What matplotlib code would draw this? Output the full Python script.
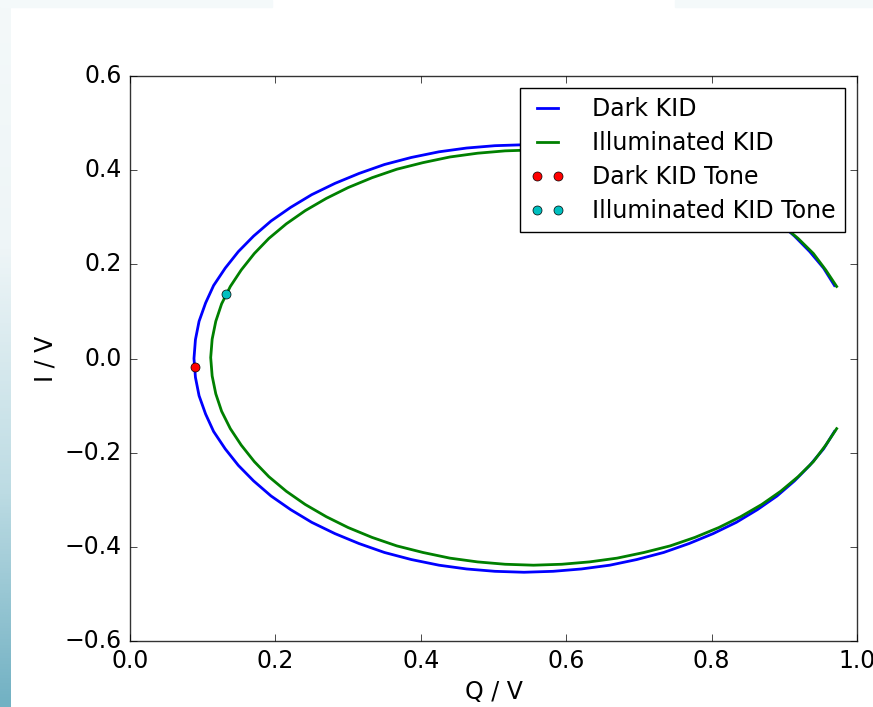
import matplotlib
matplotlib.use('Agg')
import matplotlib.pyplot as plt
import numpy as np
from matplotlib.colors import LinearSegmentedColormap

plt.style.use('classic')

# ── IQ loops (Q, I in volts) ──
dark_q = [0.969, 0.954, 0.935, 0.914, 0.890, 0.863, 0.834, 0.802, 0.769, 0.734,
          0.697, 0.660, 0.621, 0.582, 0.542, 0.502, 0.463, 0.425, 0.387, 0.350,
          0.315, 0.282, 0.250, 0.221, 0.194, 0.170, 0.149, 0.131, 0.115, 0.104,
          0.095, 0.090, 0.088,
          0.090, 0.095, 0.104, 0.115, 0.131, 0.149, 0.170, 0.194, 0.221, 0.250,
          0.282, 0.315, 0.350, 0.387, 0.425, 0.463, 0.502, 0.542, 0.582, 0.621,
          0.660, 0.697, 0.734, 0.769, 0.802, 0.834, 0.863, 0.890, 0.914, 0.935,
          0.954, 0.969]
dark_i = [0.155, 0.192, 0.227, 0.260, 0.292, 0.321, 0.348, 0.372, 0.393, 0.412,
          0.427, 0.439, 0.447, 0.452, 0.454, 0.452, 0.447, 0.439, 0.427, 0.412,
          0.393, 0.372, 0.348, 0.321, 0.292, 0.260, 0.227, 0.192, 0.155, 0.118,
          0.079, 0.040, 0.000,
          -0.040, -0.079, -0.118, -0.155, -0.192, -0.227, -0.260, -0.292, -0.321,
          -0.348, -0.372, -0.393, -0.412, -0.427, -0.439, -0.447, -0.452, -0.454,
          -0.452, -0.447, -0.439, -0.427, -0.412, -0.393, -0.372, -0.348, -0.321,
          -0.292, -0.260, -0.227, -0.192, -0.155]

illum_q = [0.972, 0.957, 0.940, 0.919, 0.895, 0.869, 0.840, 0.810, 0.777, 0.743,
           0.707, 0.670, 0.632, 0.594, 0.555, 0.516, 0.478, 0.440, 0.403, 0.367,
           0.333, 0.300, 0.270, 0.241, 0.215, 0.191, 0.171, 0.153, 0.138, 0.126,
           0.118, 0.113, 0.111,
           0.113, 0.118, 0.126, 0.138, 0.153, 0.171, 0.191, 0.215, 0.241, 0.270,
           0.300, 0.333, 0.367, 0.403, 0.440, 0.478, 0.516, 0.555, 0.594, 0.632,
           0.670, 0.707, 0.743, 0.777, 0.810, 0.840, 0.869, 0.895, 0.919, 0.940,
           0.957, 0.972]
illum_i = [0.153, 0.188, 0.223, 0.255, 0.286, 0.314, 0.340, 0.363, 0.384, 0.402,
           0.416, 0.428, 0.436, 0.441, 0.443, 0.441, 0.436, 0.428, 0.416, 0.402,
           0.384, 0.363, 0.340, 0.314, 0.286, 0.255, 0.223, 0.188, 0.153, 0.116,
           0.079, 0.041, 0.002,
           -0.037, -0.075, -0.112, -0.149, -0.184, -0.219, -0.251, -0.282, -0.310,
           -0.336, -0.359, -0.380, -0.398, -0.412, -0.424, -0.432, -0.437, -0.439,
           -0.437, -0.432, -0.424, -0.412, -0.398, -0.380, -0.359, -0.336, -0.310,
           -0.282, -0.251, -0.219, -0.184, -0.149]

dark_tone = (0.090, -0.018)
illum_tone = (0.132, 0.136)

fig = plt.figure(figsize=(8.73, 7.07), dpi=100, facecolor='white')

# screenshot border strips behind the plot
strip = fig.add_axes([0, 0, 11 / 873, 1])
cmap = LinearSegmentedColormap.from_list(
    'edge', [(0.0, '#f4f9fa'), (0.35, '#eef5f7'), (0.7, '#bcdbe3'), (1.0, '#72b1c3')])
strip.imshow(np.linspace(0, 1, 200).reshape(-1, 1), aspect='auto', cmap=cmap)
strip.set_axis_off()
fig.patches.append(plt.Rectangle((0, 1 - 7 / 707), 272 / 873, 7 / 707,
                                 transform=fig.transFigure, color='#f4f9fa', zorder=0))
fig.patches.append(plt.Rectangle((675 / 873, 1 - 7 / 707), 198 / 873, 7 / 707,
                                 transform=fig.transFigure, color='#f4f9fa', zorder=0))

ax = fig.add_axes([130 / 873, 66 / 707, 727 / 873, 565 / 707])
ax.set_facecolor('white')

ax.plot(dark_q, dark_i, color='b', lw=2, label='Dark KID')
ax.plot(illum_q, illum_i, color='g', lw=2, label='Illuminated KID')
ax.plot([dark_tone[0]], [dark_tone[1]], 'o', color='r', ms=6.5, mec='k', mew=0.5,
        label='Dark KID Tone')
ax.plot([illum_tone[0]], [illum_tone[1]], 'o', color='c', ms=6.5, mec='k', mew=0.5,
        label='Illuminated KID Tone')

ax.set_xlim(0, 1.0)
ax.set_ylim(-0.6, 0.6)
ax.set_xticks(np.arange(0, 1.01, 0.2))
ax.set_yticks(np.arange(-0.6, 0.61, 0.2))
ax.tick_params(labelsize=17, direction='in', length=5, pad=6)
ax.set_xlabel('Q / V', fontsize=17)
ax.set_ylabel('I / V', fontsize=17)
for s in ax.spines.values():
    s.set_color('#333333')

ax.legend(loc='upper right', fontsize=17, numpoints=2, handlelength=1.5,
          handletextpad=1.15, labelspacing=0.42, borderaxespad=0.5,
          framealpha=1, fancybox=False)

fig.savefig('out.png', dpi=100, facecolor='white')
